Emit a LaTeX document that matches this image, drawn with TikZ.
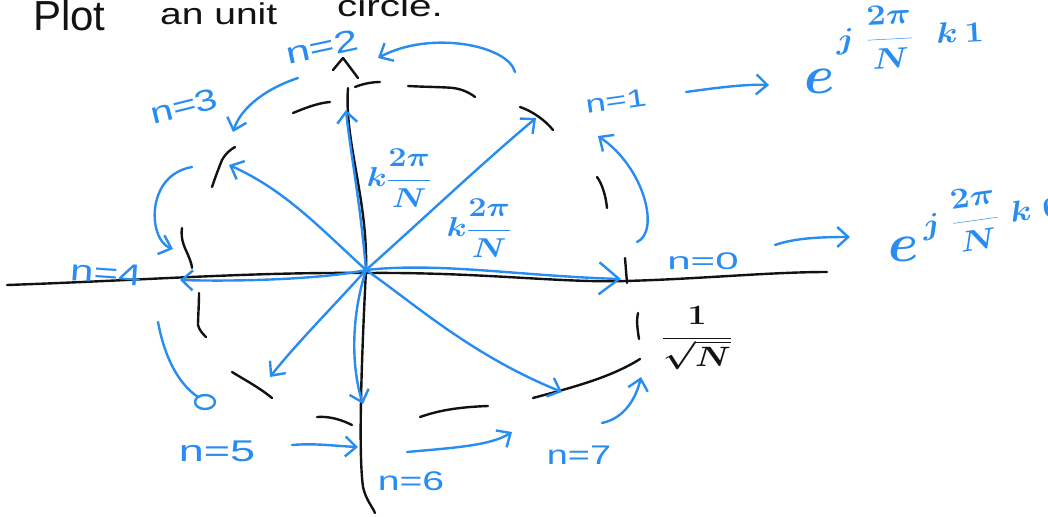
\RequirePackage{fix-cm}
\documentclass[tikz,border=0pt]{standalone}
\usepackage{fontspec}
\setmainfont{Liberation Sans}
\usetikzlibrary{arrows.meta}
\definecolor{ink}{RGB}{18,18,18}
\definecolor{pen}{RGB}{40,140,240}
\newcommand{\handtxt}[2]{\scalebox{#1}[1]{#2}}

\begin{document}
\begin{tikzpicture}[x=1pt,y=-1pt,
  inkline/.style={ink,line width=2.4pt,line cap=round,line join=round},
  bluepen/.style={pen,line width=2.4pt,line cap=round,line join=round},
  spoke/.style={bluepen,-{Straight Barb[length=11pt,width=20pt]}},
  bigspoke/.style={bluepen,-{Straight Barb[length=20pt,width=32pt]}},
  turn/.style={bluepen,-{Straight Barb[length=11pt,width=20pt]}},
  nlab/.style={pen,inner sep=0pt,font=\fontsize{30}{32}\selectfont},
  mathlab/.style={pen,inner sep=0pt,font=\fontsize{26}{30}\selectfont\boldmath},
]
\useasboundingbox (0,0) rectangle (1048,516);

% ---------- heading ----------
\node[ink,inner sep=0pt,anchor=base west,font=\fontsize{42}{44}\selectfont] (hd1) at (33,31) {\handtxt{1.0}{Plot}};
\node[ink,inner sep=0pt,anchor=base west,font=\fontsize{30}{32}\selectfont] (hd2) at (160,25) {\handtxt{1.3}{an unit}};
\node[ink,inner sep=0pt,anchor=base west,font=\fontsize{30}{32}\selectfont] (hd3) at (337,17) {\handtxt{1.35}{circle.}};

% ---------- axes ----------
\draw[inkline] (7,285) .. controls (150,280) and (250,272) .. (367,273)
               .. controls (480,272) and (560,283) .. (625,281)
               .. controls (700,279) and (770,272) .. (827,272);
\draw[inkline] (348,88) .. controls (344,140) and (368,200) .. (366,270)
               .. controls (362,350) and (358,450) .. (363,487)
               .. controls (366,500) and (372,506) .. (375,513);
\draw[inkline] (333,70) -- (343,58) -- (358,78);
% tick at radius one
\draw[inkline] (625,258) -- (627,283);

% ---------- dashed unit circle ----------
\draw[inkline] (355,87) .. controls (362,84) and (372,82) .. (380,82);
\draw[inkline] (408,86) .. controls (425,87) and (445,87) .. (453,88) .. controls (462,89) and (470,93) .. (475,97);
\draw[inkline] (293,113) .. controls (305,108) and (318,103) .. (330,102);
\draw[inkline] (520,107) .. controls (532,111) and (545,120) .. (553,130);
\draw[inkline] (597,177) .. controls (603,185) and (606,198) .. (607,208);
\draw[inkline] (212,187) .. controls (216,175) and (220,165) .. (222,160) .. controls (226,153) and (230,150) .. (235,147);
\draw[inkline] (182,228) .. controls (180,240) and (186,250) .. (188,255) .. controls (191,262) and (192,266) .. (192,268);
\draw[inkline] (199,293) .. controls (199,305) and (198,318) .. (198,325) .. controls (199,330) and (203,334) .. (206,337);
\draw[inkline] (232,372) .. controls (245,380) and (260,388) .. (272,398);
\draw[inkline] (317,417) .. controls (330,416) and (342,420) .. (352,425);
\draw[inkline] (420,417) .. controls (440,410) and (460,407) .. (488,406);
\draw[inkline] (533,398) .. controls (570,388) and (610,378) .. (640,359);
\draw[inkline] (638,313) .. controls (636,322) and (638,332) .. (639,339);

% ---------- points on the circle ----------
\coordinate (O) at (366,270);
\coordinate (p0) at (621,279);
\coordinate (p1) at (536,118);
\coordinate (p2) at (346,110);
\coordinate (p3) at (229,165);
\coordinate (p4) at (180,280);
\coordinate (p5) at (270,377);
\coordinate (p6) at (363,404);
\coordinate (p7) at (562,392);

% ---------- phasors ----------
\draw[bigspoke] (O) .. controls (440,262) and (520,276) .. (p0);
\draw[spoke] (O) .. controls (420,222) and (480,165) .. (p1);
\draw[spoke] (O) .. controls (360,200) and (350,150) .. (p2);
\draw[spoke] (O) .. controls (320,228) and (285,190) .. (p3);
\draw[spoke] (O) .. controls (330,278) and (250,282) .. (p4);
\draw[spoke] (O) .. controls (330,310) and (295,345) .. (p5);
\draw[spoke] (O) .. controls (350,320) and (352,370) .. (p6);
\draw[spoke] (O) .. controls (410,300) and (470,355) .. (p7);

% ---------- rotation arrows from one sample to the next ----------
\coordinate (r0a) at (637,242);  \coordinate (r0b) at (598,136);
\coordinate (r1a) at (515,72);   \coordinate (r1b) at (378,58);
\coordinate (r2a) at (298,78);   \coordinate (r2b) at (233,132);
\coordinate (r3a) at (192,167);  \coordinate (r3b) at (173,249);
\coordinate (r4a) at (158,322);  \coordinate (r4b) at (198,397);
\coordinate (r5a) at (292,445);  \coordinate (r5b) at (358,447);
\coordinate (r6a) at (407,452);  \coordinate (r6b) at (512,432);
\coordinate (r7a) at (602,423);  \coordinate (r7b) at (641,377);

\draw[turn] (r0a) .. controls (660,232) and (645,168) .. (r0b);
\draw[turn] (r1a) .. controls (508,45) and (430,30) .. (r1b);
\draw[turn] (r2a) .. controls (262,90) and (240,110) .. (r2b);
\draw[turn] (r3a) .. controls (145,175) and (148,240) .. (r3b);
\draw[bluepen] (r4a) .. controls (165,360) and (180,385) .. (r4b);
\draw[bluepen] (205,402) ellipse [x radius=10, y radius=7];
\draw[turn] (r5a) .. controls (315,443) and (335,446) .. (r5b);
\draw[turn] (r6a) .. controls (450,448) and (490,446) .. (r6b);
\draw[turn] (r7a) .. controls (625,418) and (636,398) .. (r7b);

% ---------- sample labels ----------
\node[nlab,rotate=12] (n2) at (322,47) {\handtxt{1.45}{n=2}};
\node[nlab,rotate=14] (n3) at (184,106) {\handtxt{1.35}{n=3}};
\node[nlab,rotate=8,font=\fontsize{25}{27}\selectfont] (n1) at (616,101) {\handtxt{1.45}{n=1}};
\node[nlab,rotate=-4] (n4) at (106,273) {\handtxt{1.4}{n=4}};
\node[nlab,font=\fontsize{24}{26}\selectfont] (n0) at (703,261) {\handtxt{1.75}{n=0}};
\node[nlab] (n5) at (217,451) {\handtxt{1.5}{n=5}};
\node[nlab,font=\fontsize{27}{29}\selectfont] (n6) at (411,481) {\handtxt{1.45}{n=6}};
\node[nlab,font=\fontsize{27}{29}\selectfont] (n7) at (579,455) {\handtxt{1.4}{n=7}};

% ---------- angle labels ----------
\node[mathlab] (ang1) at (399,178) {\scalebox{1.25}[1.05]{$k\displaystyle\frac{2\pi}{N}$}};
\node[mathlab] (ang2) at (479,228) {\scalebox{1.25}[1.05]{$k\displaystyle\frac{2\pi}{N}$}};

% ---------- radius ----------
\node[ink,inner sep=0pt,font=\fontsize{28}{32}\selectfont\boldmath] (rad) at (697,338) {\scalebox{1.2}[1.0]{$\displaystyle\frac{1}{\sqrt{N}}$}};

% ---------- resulting exponentials ----------
\node[mathlab] (e1base) at (820,81) {\scalebox{2.1}{$e$}};
\node[mathlab,font=\fontsize{24}{28}\selectfont\boldmath,rotate=3] (e1exp) at (910,36)
  {\scalebox{1.45}[1.22]{$\displaystyle j\;\frac{2\pi}{N}\;\;k\,1$}};
\node[mathlab] (e0base) at (904,249) {\scalebox{2.1}{$e$}};
\node[mathlab,font=\fontsize{24}{28}\selectfont\boldmath,rotate=8] (e0exp) at (992,216)
  {\scalebox{1.45}[1.22]{$\displaystyle j\;\frac{2\pi}{N}\;k\;0$}};

\coordinate (m1a) at (686,92);
\coordinate (m1b) at (769,85);
\draw[turn] (m1a) .. controls (715,88) and (745,84) .. (m1b);
\coordinate (m0a) at (775,245);
\coordinate (m0b) at (850,237);
\draw[turn] (m0a) .. controls (795,238) and (820,237) .. (m0b);
\end{tikzpicture}
\end{document}
